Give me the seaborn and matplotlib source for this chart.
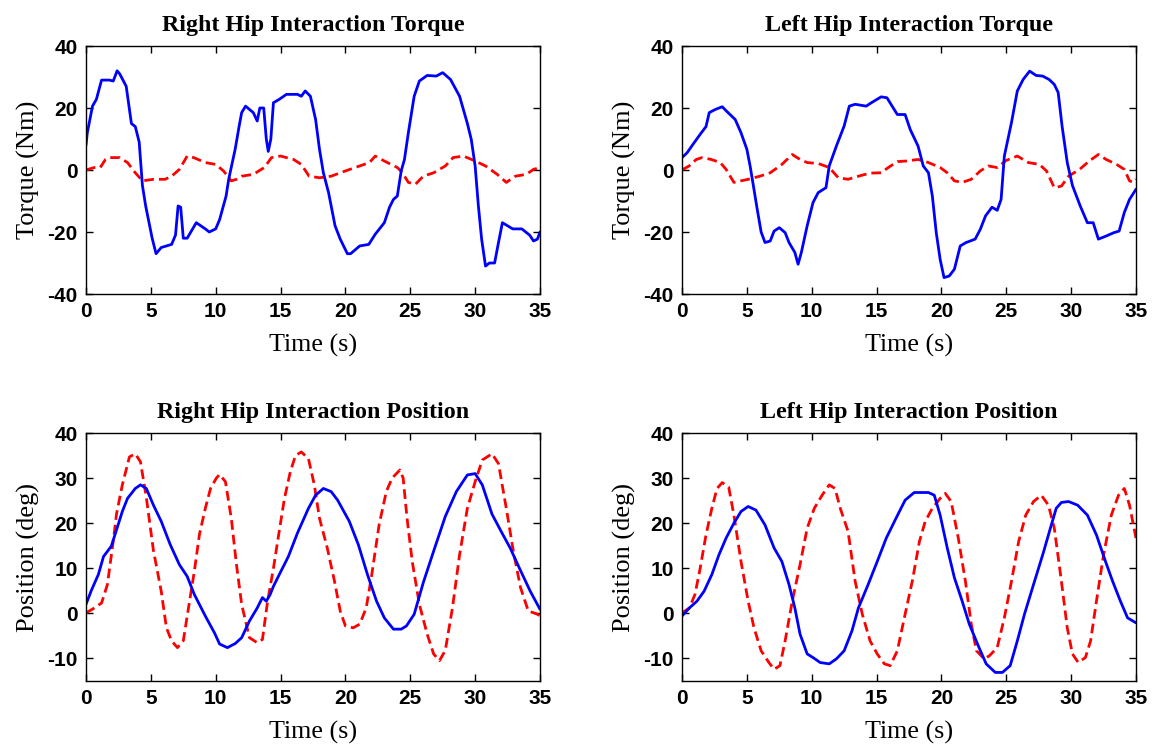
import numpy as np
import pandas as pd
import seaborn as sns
import matplotlib
matplotlib.use("Agg")
import matplotlib.pyplot as plt

# ---------------- data ----------------
# Right hip torque, solid blue
rt_blue_t = [0, 0.1, 0.5, 0.8, 1.2, 1.8, 2.1, 2.4, 2.6, 3.1, 3.5, 3.8, 4.1, 4.35, 4.6, 5.1, 5.4, 5.8, 6.6, 6.9,
             7.1, 7.3, 7.5, 7.8, 8.5, 9.2, 9.5, 10.0, 10.3, 10.8, 11.0, 11.5, 11.8, 12.0, 12.3, 12.9, 13.2, 13.4,
             13.7, 13.9, 14.05, 14.25, 14.45, 14.9, 15.45, 16.3, 16.6, 16.9, 17.3, 17.7, 18.0, 18.3, 18.7, 19.2,
             19.6, 20.15, 20.4, 21.1, 21.8, 22.3, 23.0, 23.4, 23.7, 24.0, 24.3, 24.55, 24.85, 25.3, 25.7, 26.3,
             27.0, 27.5, 28.1, 28.8, 29.4, 29.7, 30.0, 30.25, 30.5, 30.8, 31.1, 31.5, 31.8, 32.1, 32.5, 32.9,
             33.6, 34.2, 34.5, 34.8, 35.0]
rt_blue_v = [8, 12, 20.6, 22.8, 29, 29, 28.7, 32, 31, 27, 15, 14, 9, -5, -11.6, -22, -27, -25, -24, -21,
             -11.6, -12, -22, -22, -17, -19, -20, -19, -16, -8.4, -3, 6.7, 14, 18.5, 20.6, 18.5, 15.8, 20,
             20, 10, 6, 10, 21.7, 22.8, 24.4, 24.4, 23.8, 25.5, 23.8, 16.3, 6.7, -0.9, -7.3, -18,
             -22.3, -27, -27, -24.5, -24, -20.7, -17, -12, -9.5, -8.4, -0.3, 3.4, 12, 23.8, 28.7, 30.5,
             30.3, 31.4, 29.2, 23.8, 15, 9.9, 1.3, -11.6, -22.3, -31, -30, -30, -23.4, -17, -18, -19,
             -19, -21, -22.9, -22.3, -20]
# Right hip torque, dashed red
rt_red_t = [0, 0.65, 1.1, 1.5, 1.8, 2.6, 3.2, 3.8, 4.35, 5.2, 6.1, 6.6, 7.2, 7.8, 8.3, 9.2, 10.0, 10.6, 11.2,
            11.6, 12.0, 12.9, 13.75, 14.3, 15.0, 16.0, 16.6, 17.2, 18.0, 18.9, 20.0, 21.1, 21.85, 22.3, 23.0,
            24.0, 24.4, 24.85, 25.4, 26.0, 26.8, 27.7, 28.3, 29.1, 30.0, 30.8, 31.7, 32.4, 33.1, 33.95, 34.5, 35.0]
rt_red_v = [0, 0.8, 0.8, 3.4, 4, 4, 2.4, -0.9, -3.5, -3, -3, -2, 0.2, 4.5, 4, 2.4, 1.8, -0.3, -3.5,
            -3, -2, -1.4, 0.8, 4, 4.5, 3.4, 1.8, -2, -2.5, -2, -0.3, 1.3, 2.4, 4.5, 2.9,
            0.8, -0.9, -4, -4.6, -2, -0.9, 1.3, 4, 4.5, 2.9, 1.3, -1.4, -4, -2, -1.4, 0.2, 0.8]

# Left hip torque, solid blue
lt_blue_t = [0, 0.4, 0.85, 1.4, 1.85, 2.1, 2.55, 3.1, 3.55, 4.1, 4.55, 5.0, 5.25, 5.5, 5.8, 6.1, 6.4, 6.8, 7.1,
             7.5, 7.95, 8.25, 8.7, 8.95, 9.2, 9.65, 10.1, 10.5, 11.1, 11.35, 11.9, 12.5, 12.9, 13.35, 14.2, 14.6,
             15.35, 15.8, 16.2, 16.6, 17.2, 17.6, 18.2, 18.6, 19.0, 19.3, 19.6, 19.9, 20.2, 20.6, 21.0, 21.45,
             21.9, 22.6, 23.0, 23.4, 23.9, 24.3, 24.6, 24.85, 25.4, 25.85, 26.3, 26.8, 27.3, 27.8, 28.3, 28.7,
             29.0, 29.3, 29.7, 30.1, 30.7, 31.25, 31.7, 32.1, 32.7, 33.3, 33.7, 34.1, 34.5, 35.0]
lt_blue_v = [4, 5.6, 8.3, 11.5, 14, 18.5, 19.5, 20.4, 18.5, 16.3, 12, 6.7, 1.3, -5, -12.7, -20, -23.4, -22.9, -19.7,
             -18.6, -20.2, -23.4, -26.6, -30.4, -26.6, -18, -10.5, -7.3, -5.7, 1.3, 7.7, 14.2, 20.6, 21.2, 20.6, 21.7,
             23.6, 23.3, 20.6, 17.9, 17.9, 13, 7.7, 1.3, -0.9, -8.4, -20.2, -28.8, -34.7, -34.2, -32, -24.5,
             -23.4, -22.3, -19.1, -14.8, -12, -13, -9.5, 4.5, 15.3, 25.5, 29.2, 31.9, 30.5, 30.3, 29.2, 27.6,
             25, 14.2, 2.4, -5, -11.6, -17, -17, -22.3, -21.3, -20.2, -19.7, -13.7, -9.5, -6.2]
# Left hip torque, dashed red
lt_red_t = [0, 0.55, 1.1, 1.55, 2.25, 2.95, 3.4, 4.0, 4.55, 5.1, 6.0, 6.8, 7.7, 8.5, 9.1, 9.65, 10.5, 11.35,
            12.05, 12.8, 13.6, 14.5, 15.35, 15.9, 16.6, 17.3, 18.2, 19.0, 19.9, 20.45, 21.0, 21.6, 22.3, 23.0,
            23.6, 24.3, 25.0, 25.85, 26.7, 27.55, 28.1, 28.7, 29.25, 29.8, 30.65, 31.4, 32.1, 32.7, 33.5, 34.1,
            34.5, 34.8, 35.0]
lt_red_v = [0, 1.3, 3.4, 4, 3.4, 2.4, 0.2, -4, -3.5, -3, -2, -0.9, 1.8, 5, 3.4, 2.4, 2.1, 0.8,
            -2.5, -3, -2, -1, -0.9, 0.8, 2.7, 2.9, 3.4, 2.4, 0.8, -0.9, -3.5, -4, -3, -0.3,
            1.3, 0.8, 3.1, 4.5, 2.4, 1.8, -0.3, -5.7, -5.2, -2, 0.2, 2.9, 5, 3.4, 1.8, 0.2,
            -3.5, -4, -3]

# Right hip position, solid blue
rp_blue_t = [0, 0.4, 0.95, 1.35, 1.95, 2.35, 2.8, 3.2, 3.8, 4.2, 4.65, 5.2, 5.8, 6.5, 7.2, 7.8, 8.35, 9.2, 9.9,
             10.3, 10.9, 11.5, 12.0, 12.6, 13.2, 13.6, 13.9, 14.2, 14.45, 14.9, 15.6, 16.3, 17.15, 17.7, 18.3,
             18.9, 19.4, 20.3, 21.0, 21.7, 22.4, 23.0, 23.7, 24.3, 24.7, 25.3, 26.0, 26.8, 27.7, 28.55, 29.4,
             30.0, 30.55, 31.3, 32.0, 32.7, 33.4, 34.25, 35.0]
rp_blue_v = [2, 5, 8.6, 12.6, 14.9, 18.5, 22.6, 25.5, 27.7, 28.5, 27.7, 24, 20.4, 15.2, 10.8, 8.2, 4.2, -0.6, -4.3,
             -6.8, -7.6, -6.7, -5.4, -1.7, 1.2, 3.5, 2.7, 4.2, 6, 8.6, 12.6, 17.8, 23.3, 26.2, 27.7,
             27, 25.1, 20.4, 15.2, 8.6, 2.7, -1, -3.5, -3.5, -2.8, -0.2, 6.8, 13.8, 21.5, 27, 30.7,
             31, 28.5, 22, 18.2, 14.5, 10.1, 4.9, 0.9]
# Right hip position, dashed red
rp_red_t = [0, 0.65, 1.2, 1.65, 2.1, 2.35, 2.8, 3.35, 3.8, 4.2, 4.65, 5.2, 5.8, 6.2, 6.6, 7.05, 7.5, 7.9, 8.35,
            8.75, 9.2, 9.6, 10.05, 10.3, 10.75, 11.2, 11.6, 12.0, 12.6, 13.2, 13.6, 14.0, 14.45, 14.9, 15.3,
            15.75, 16.15, 16.6, 17.15, 17.6, 18.0, 18.6, 19.15, 19.6, 20.0, 20.6, 21.1, 21.6, 22.0, 22.6, 23.15,
            23.6, 24.2, 24.45, 24.75, 25.15, 25.7, 26.3, 26.8, 27.25, 27.7, 28.25, 28.8, 29.4, 30.0, 30.55,
            31.3, 31.8, 32.4, 32.95, 33.5, 34.1, 34.65, 35.0]
rp_red_v = [0.1, 1.2, 2.3, 6.4, 16, 22, 28.5, 34.7, 35.4, 33.6, 25.7, 13.9, 4.9, -3.2, -6.1, -7.6, -6.1, 1.2, 9.3,
            17.6, 23.3, 27.7, 30, 30.8, 29.2, 21.1, 10.8, 2, -5.4, -6.5, -5.8, 2.7, 10, 18.3, 25.5,
            31.4, 35, 35.8, 34.3, 28.5, 21.1, 14.5, 7.2, 0.5, -2.8, -3.2, -2.4, 1.2, 8, 19.7, 27,
            30, 31.8, 30, 21.1, 11.5, 2, -4.6, -9, -10.5, -8.2, 1.2, 13, 23.3, 29.2, 34,
            35.4, 33.2, 23.3, 13.7, 5.7, 0.5, 0, -0.5]

# Left hip position, solid blue
lp_blue_t = [0, 0.57, 1.15, 1.7, 2.3, 2.85, 3.4, 4.0, 4.55, 5.1, 5.7, 6.4, 7.1, 7.7, 8.25, 8.7, 9.1, 9.65, 10.1,
             10.65, 11.35, 11.9, 12.5, 13.1, 13.6, 14.35, 15.05, 15.75, 16.5, 17.2, 17.9, 19.0, 19.45, 19.9,
             20.45, 21.0, 21.6, 22.15, 22.9, 23.45, 24.15, 24.7, 25.3, 25.85, 26.4, 27.1, 27.85, 28.4, 28.85,
             29.25, 29.8, 30.5, 31.25, 31.95, 32.65, 33.2, 33.8, 34.35, 35.0]
lp_blue_v = [-0.6, 1.2, 2.7, 4.9, 8.6, 13, 16.7, 20, 22.6, 23.7, 22.9, 19.6, 14.5, 11.5, 6.4, 1.2, -4.6, -9, -9.8,
             -10.9, -11.2, -10.1, -8.3, -3.9, 1.2, 6.4, 11.5, 16.7, 21.1, 25.1, 26.8, 26.8, 26.2, 21.8,
             14.5, 7.9, 2.7, -2.4, -7.6, -11.2, -13.1, -13.1, -11.6, -6.1, -0.2, 6.4, 13.4, 18.9, 23.3,
             24.6, 24.8, 24, 21.8, 17.4, 11.5, 7.1, 2.7, -1, -2.1]
# Left hip position, dashed red
lp_red_t = [0, 0.57, 1.0, 1.4, 1.85, 2.3, 2.7, 3.1, 3.6, 4.0, 4.55, 5.1, 5.55, 6.1, 6.7, 7.1, 7.55, 7.95, 8.5,
            9.1, 9.65, 10.2, 10.8, 11.35, 11.8, 12.2, 12.8, 13.35, 13.9, 14.5, 15.05, 15.6, 16.05, 16.6, 17.2,
            17.75, 18.3, 18.75, 19.3, 19.9, 20.3, 20.75, 21.3, 21.85, 22.3, 22.7, 23.3, 23.7, 24.3, 24.85, 25.4,
            25.95, 26.5, 27.1, 27.7, 28.25, 28.7, 29.25, 29.7, 30.1, 30.55, 31.1, 31.5, 31.95, 32.5, 33.1,
            33.65, 34.1, 34.5, 34.8, 35.0]
lp_red_v = [0.1, 1.2, 4.2, 10, 17.4, 23.3, 27.7, 29, 28, 21.8, 11.5, 2.7, -3.2, -8.3, -10.9, -12.4, -11.6, -6.1, 2.7,
            10.8, 18.9, 23.3, 26.2, 28.5, 27.7, 23.3, 18.2, 7.1, -0.2, -6.1, -9, -11.2, -11.6, -8.3, -0.2,
            7.1, 15.9, 20.4, 23.3, 25.5, 26.6, 24.8, 16.7, 7.1, -2.4, -8.3, -10.1, -9.4, -7.6, -1, 7.1,
            15.9, 21.8, 24.8, 26.2, 24, 18.9, 7.1, -3.2, -9, -10.9, -9.8, -6.1, 2.7, 13, 21.8,
            26.2, 27.7, 24, 19.6, 16.7]

titles = ["Right Hip Interaction Torque", "Left Hip Interaction Torque",
          "Right Hip Interaction Position", "Left Hip Interaction Position"]
ylabels = ["Torque (Nm)", "Torque (Nm)", "Position (deg)", "Position (deg)"]
xlabel = "Time (s)"
xticks = [0, 5, 10, 15, 20, 25, 30, 35]
torque_yticks = [-40, -20, 0, 20, 40]
pos_yticks = [-10, 0, 10, 20, 30, 40]

panels = [
    (rt_blue_t, rt_blue_v, rt_red_t, rt_red_v, (-40, 40), torque_yticks),
    (lt_blue_t, lt_blue_v, lt_red_t, lt_red_v, (-40, 40), torque_yticks),
    (rp_blue_t, rp_blue_v, rp_red_t, rp_red_v, (-15, 40), pos_yticks),
    (lp_blue_t, lp_blue_v, lp_red_t, lp_red_v, (-15, 40), pos_yticks),
]

# ---------------- plot ----------------
sns.set_theme(style="white")
plt.rcParams["font.family"] = ["Liberation Sans", "DejaVu Sans"]
plt.rcParams["axes.unicode_minus"] = False

fig = plt.figure(figsize=(11.52, 7.46), dpi=100)
W, H = 1152, 746
boxes = [(86, 46), (682, 46), (86, 433), (682, 433)]
aw, ah = 454, 248

for i, (bt, bv, rtt, rv, ylim, yt) in enumerate(panels):
    x0, y0 = boxes[i]
    ax = fig.add_axes([x0 / W, 1 - (y0 + ah) / H, aw / W, ah / H])
    sns.lineplot(x=np.array(rtt), y=np.array(rv), ax=ax, color="#ff0000",
                 linewidth=2.0, linestyle=(0, (3.5, 1.8)), estimator=None, sort=False)
    sns.lineplot(x=np.array(bt), y=np.array(bv), ax=ax, color="#0000ff",
                 linewidth=2.0, estimator=None, sort=False)
    ax.set_xlim(0, 35)
    ax.set_ylim(*ylim)
    ax.set_xticks(xticks)
    ax.set_yticks(yt)
    ax.tick_params(direction="in", length=5, width=1, top=True, right=True,
                   bottom=True, left=True, labelsize=15, pad=6, colors="black")
    for lab in ax.get_xticklabels() + ax.get_yticklabels():
        lab.set_fontweight("bold")
    for sp in ax.spines.values():
        sp.set_color("black")
        sp.set_linewidth(1.0)
    ax.set_title(titles[i], family=["Liberation Serif"], fontsize=17.3,
                 fontweight="bold", pad=11, color="black")
    ax.set_xlabel(xlabel, family=["Liberation Serif"], fontsize=18.7, labelpad=9, color="black")
    ax.set_ylabel(ylabels[i], family=["Liberation Serif"], fontsize=19, labelpad=5, color="black")
    ax.grid(False)

fig.savefig("out.png", dpi=100, facecolor="white")
